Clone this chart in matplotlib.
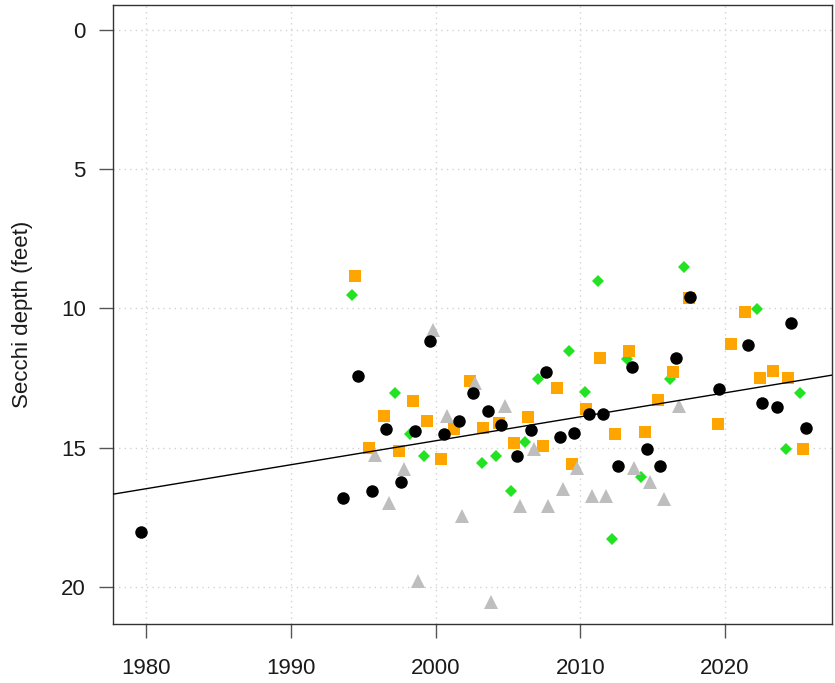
import matplotlib
matplotlib.use("Agg")
import matplotlib.pyplot as plt

plt.rcParams['font.family'] = ['Liberation Sans', 'DejaVu Sans']

# annual mean Secchi depth (feet) at each sampling station
deep_years = [1979.6, 1993.6, 1994.6, 1995.6, 1996.6, 1997.6, 1998.6, 1999.6,
              2000.6, 2001.6, 2002.6, 2003.6, 2004.5, 2005.6, 2006.6, 2007.6,
              2008.6, 2009.6, 2010.6, 2011.6, 2012.6, 2013.6, 2014.6, 2015.5,
              2016.6, 2017.6, 2019.6, 2021.6, 2022.6, 2023.6, 2024.6, 2025.6]
deep_depth = [18.02, 16.80, 12.43, 16.55, 14.33, 16.23, 14.40, 11.17,
              14.51, 14.04, 13.04, 13.68, 14.19, 15.30, 14.36, 12.28,
              14.62, 14.47, 13.79, 13.79, 15.66, 12.10, 15.05, 15.66,
              11.78, 9.59, 12.89, 11.32, 13.40, 13.54, 10.53, 14.29]

north_years = [1994.4, 1995.4, 1996.4, 1997.5, 1998.4, 1999.4, 2000.4, 2001.3,
               2002.4, 2003.3, 2004.4, 2005.4, 2006.4, 2007.4, 2008.4, 2009.4,
               2010.4, 2011.4, 2012.4, 2013.4, 2014.5, 2015.4, 2016.4, 2017.5,
               2019.5, 2020.4, 2021.4, 2022.4, 2023.3, 2024.4, 2025.4]
north_depth = [8.84, 15.01, 13.86, 15.12, 13.33, 14.04, 15.41, 14.33,
               12.61, 14.29, 14.11, 14.83, 13.90, 14.94, 12.86, 15.58,
               13.61, 11.78, 14.51, 11.53, 14.44, 13.29, 12.28, 9.63,
               14.15, 11.28, 10.13, 12.50, 12.25, 12.50, 15.05]

south_years = [1994.2, 1997.2, 1998.2, 1999.2, 2003.2, 2004.2, 2005.2, 2006.2,
               2007.1, 2009.2, 2010.3, 2011.2, 2012.2, 2013.2, 2014.2, 2016.2,
               2017.2, 2022.2, 2024.2, 2025.2]
south_depth = [9.52, 13.04, 14.51, 15.30, 15.55, 15.30, 16.55, 14.80,
               12.54, 11.53, 13.00, 9.02, 18.27, 11.82, 16.05, 12.54,
               8.52, 10.03, 15.05, 13.04]

inlet_years = [1995.8, 1996.8, 1997.8, 1998.8, 1999.8, 2000.8, 2001.8, 2002.7,
               2003.8, 2004.8, 2005.8, 2006.8, 2007.8, 2008.8, 2009.8, 2010.8,
               2011.8, 2013.7, 2014.8, 2015.8, 2016.8]
inlet_depth = [15.26, 16.98, 15.76, 19.78, 10.78, 13.86, 17.45, 12.68,
               20.54, 13.50, 17.09, 15.05, 17.09, 16.48, 15.73, 16.73,
               16.73, 15.73, 16.23, 16.84, 13.50]

# linear trend of clarity over time (feet per year)
TREND_AT_2000 = 14.75
TREND_SLOPE = -0.0859

x_ticks = [1980, 1990, 2000, 2010, 2020]
y_ticks = [0, 5, 10, 15, 20]

fig = plt.figure(figsize=(8.35, 6.83), dpi=100)
ax = fig.add_axes([0.1359, 0.0861, 0.8605, 0.9061])

ax.set_xlim(1977.72, 2027.41)
ax.set_ylim(21.33, -0.87)

ax.set_xticks(x_ticks)
ax.set_yticks(y_ticks)
ax.grid(True, color='#d3d3d3', linestyle=(0, (1, 3)), linewidth=1.0)
ax.set_axisbelow(True)

ax.plot(south_years, south_depth, linestyle='none', marker='D', markersize=6.6,
        color='#22e322', markeredgewidth=0, zorder=3)
ax.plot(north_years, north_depth, linestyle='none', marker='s', markersize=9.2,
        color='#ffa500', markeredgewidth=0, zorder=4)
ax.plot(inlet_years, inlet_depth, linestyle='none', marker='^', markersize=10,
        color='#bebebe', markeredgewidth=0, zorder=5)
ax.plot(deep_years, deep_depth, linestyle='none', marker='o', markersize=9,
        color='black', markeredgewidth=0, zorder=6)

ax.axline((2000, TREND_AT_2000), slope=TREND_SLOPE, color='black', linewidth=1.0, zorder=7)

for side in ax.spines.values():
    side.set_color('#333333')
    side.set_linewidth(1.0)
ax.tick_params(axis='both', length=10, width=1.0, color='#555555',
               labelsize=16, labelcolor='#1a1a1a')
ax.tick_params(axis='x', pad=14)
ax.tick_params(axis='y', pad=10)

ax.set_ylabel('Secchi depth (feet)', fontsize=16, color='#1a1a1a')
ax.yaxis.set_label_coords(-0.112, 0.5)

fig.savefig('out.png', dpi=100)
